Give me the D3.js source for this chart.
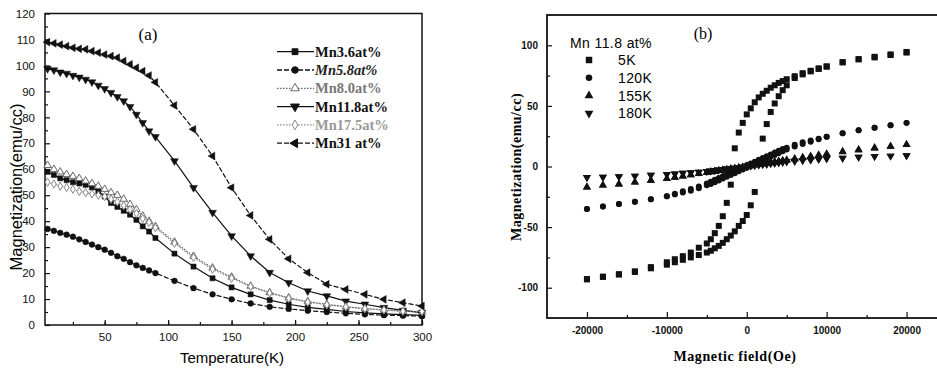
<!DOCTYPE html>
<html>
<head>
<meta charset="utf-8">
<script src="https://cdn.jsdelivr.net/npm/d3@7"></script>
<style>
  html, body { margin: 0; padding: 0; background: #fff; }
  svg { display: block; }
</style>
</head>
<body>
<div id="chart"></div>
<script>
// ---- panel (a): M(T) for several Mn contents ----
const temps = [5, 10, 15, 20, 25, 30, 35, 40, 45, 50, 55, 60, 65, 70, 75, 80, 85, 90,
  105, 120, 135, 150, 165, 180, 195, 210, 225, 240, 255, 270, 285, 300]
const mn36 = [59, 57.8, 56.5, 55.8, 55, 54.5, 54, 53, 51.5, 49.5, 47, 45.5, 44, 42.5, 40.5, 38, 36, 33.5,
  27.5, 22.5, 18, 14.5, 11.8, 9.6, 8, 6.8, 6, 5.2, 4.7, 4.3, 4, 3.7]
const mn58 = [37, 36.3, 35.5, 34.8, 34, 33, 32, 31, 30, 29, 27.8, 26.5, 25.5, 24.2, 23, 22, 21, 20,
  17, 14.2, 11.8, 9.9, 8.3, 7, 6.2, 5.5, 5, 4.5, 4.1, 3.8, 3.6, 3.4]
const mn80 = [61.5, 60, 59, 58, 57.3, 56.5, 55.5, 54.5, 53.5, 52.3, 51, 50, 48.5, 46.5, 44.5, 42, 40, 38,
  32, 26.5, 22, 18.5, 15, 12.5, 10.5, 9, 8, 7, 6.3, 5.8, 5.3, 5]
const mn118 = [98.7, 98.2, 97.4, 96.9, 96.1, 95.4, 94.6, 93.6, 92.3, 91, 89.5, 87.9, 86.3, 84.1, 81.1, 77.9, 74.7, 72.5,
  63.2, 52.9, 43.3, 34.3, 26.6, 20.2, 16.3, 13.1, 11.2, 9.2, 8, 6.7, 5.6, 4.8]
const mn175 = [55, 54.3, 53.5, 53, 52.3, 51.5, 51, 50.5, 50, 49.5, 48.5, 47.5, 46, 44.5, 43, 41, 39.5, 37.5,
  31.5, 26, 21.5, 18, 14.8, 12.3, 10.3, 8.8, 7.8, 7, 6.3, 5.8, 5.3, 5.2]
const mn31 = [109, 108.5, 108, 107.4, 106.8, 106.4, 106.2, 105.5, 104.9, 104.2, 103.6, 103, 101.7, 100.4, 99.1, 97.8, 96.1, 93.5,
  84.6, 75.4, 65.1, 52.9, 42.2, 33, 25.5, 20.2, 15.7, 13.7, 11.8, 9.9, 8.6, 7.3]
const seriesNamesA = ['Mn3.6at%', 'Mn5.8at%', 'Mn8.0at%', 'Mn11.8at%', 'Mn17.5at%', 'Mn31 at%']
const tempTicks = [50, 100, 150, 200, 250, 300]
const magTicksA = [0, 10, 20, 30, 40, 50, 60, 70, 80, 90, 100, 110, 120]

// ---- panel (b): M(H) loops of Mn 11.8 at% ----
const fieldDown = [20000, 18000, 16000, 14000, 12000, 10000, 9000, 8000, 7000, 6000, 5000, 4500, 4000, 3500,
  3000, 2500, 2000, 1500, 1000, 500, 0, -500, -1000, -1500, -2000, -2500, -3000, -3500, -4000, -4500,
  -5000, -6000, -7000, -8000, -9000, -10000, -12000, -14000, -16000, -18000, -20000]
const fieldUp = [-20000, -18000, -16000, -14000, -12000, -10000, -9000, -8000, -7000, -6000, -5000, -4500, -4000, -3500,
  -3000, -2500, -2000, -1500, -1000, -500, 0, 500, 1000, 1500, 2000, 2500, 3000, 3500, 4000, 4500,
  5000, 6000, 7000, 8000, 9000, 10000, 12000, 14000, 16000, 18000, 20000]
const m5KDown = [94, 92, 90, 88.5, 86, 82.5, 81, 79, 77, 74.5, 72, 70.5, 69, 67, 65, 62.5, 60, 57, 53, 48,
  43, 36, 28, 15, -15, -30, -41, -49, -55, -60, -63.5, -67, -71, -74, -76.5, -79, -83, -86.5, -89, -91, -93]
const m5KUp = [-93, -91, -89, -87, -84, -81, -79, -77, -75, -73, -71, -69.5, -67.5, -65.5, -63, -60, -57, -53.5, -49, -45,
  -40, -32, -21, 2, 23, 35, 45, 52, 58, 63, 67, 73, 76, 78.5, 80.5, 82.5, 86, 88.5, 90.5, 92.5, 94.5]
const m120KDown = [36, 34, 32, 30, 27.5, 24.5, 23, 21.5, 20, 18, 15.5, 14.5, 13, 11.5, 10, 8.5, 7, 5.5, 4, 2.5,
  1, -0.5, -2, -3.5, -5, -6.5, -8, -9.5, -11, -12.5, -14, -16.5, -18.5, -20.5, -22.5, -24.5, -27, -29, -31, -33, -35]
const m120KUp = [-35, -33, -31, -29, -27, -24.5, -23, -21.5, -20, -18, -15.5, -14.5, -13, -11.5, -10, -8.5, -7, -5.5, -4, -2.5,
  -1, 0.5, 2, 3.5, 5, 6.5, 8, 9.5, 11, 12.5, 14, 16.5, 18.5, 20.5, 22.5, 24.5, 27.5, 30, 32, 34, 36]
const m155KDown = [18, 16.5, 15.5, 14, 12.5, 10.5, 9.5, 8.5, 7.5, 6.5, 5.5, 5, 4.5, 4, 3.5, 3, 2.5, 2, 1.5, 1,
  0.5, -0.5, -1, -1.5, -2, -2.5, -3, -3.5, -4, -4.5, -5, -6, -7, -8, -9, -10, -11.5, -13, -14.5, -15.5, -17]
const m155KUp = [-17, -15.5, -14.5, -13, -11.5, -10, -9, -8, -7, -6, -5, -4.5, -4, -3.5, -3, -2.5, -2, -1.5, -1, -0.5,
  0, 0.5, 1, 1.5, 2, 2.5, 3, 3.5, 4, 4.5, 5, 6, 7, 8, 9, 10, 12, 13.5, 15, 16.5, 18]
const m180KDown = [9, 8.7, 8.3, 7.8, 7, 6.5, 6, 5.5, 5, 4.5, 4, 3.6, 3.2, 2.8, 2.5, 2, 1.7, 1.3, 1, 0.5,
  0, -0.5, -1, -1.3, -1.7, -2, -2.5, -2.8, -3.2, -3.6, -4, -4.5, -5, -5.5, -6, -6.5, -7, -7.8, -8.3, -8.7, -9]
const m180KUp = [-9, -8.7, -8.3, -7.8, -7, -6.5, -6, -5.5, -5, -4.5, -4, -3.6, -3.2, -2.8, -2.5, -2, -1.7, -1.3, -1, -0.5,
  0, 0.5, 1, 1.3, 1.7, 2, 2.5, 2.8, 3.2, 3.6, 4, 4.5, 5, 5.5, 6, 6.5, 7, 7.8, 8.3, 8.7, 9]
const seriesNamesB = ['5K', '120K', '155K', '180K']
const fieldTicks = [-20000, -10000, 0, 10000, 20000]
const magTicksB = [-100, -50, 0, 50, 100]

const width = 937
const height = 369
const svg = d3.select('#chart').append('svg')
  .attr('width', width)
  .attr('height', height)
  .style('font-family', '"Liberation Sans", Arial, sans-serif')

// marker helper: type -> path string
function markerPath(type, size) {
  const sym = {
    square: d3.symbolSquare,
    circle: d3.symbolCircle,
    up: d3.symbolTriangle,
    down: d3.symbolTriangle,
    left: d3.symbolTriangle,
    diamond: d3.symbolDiamond
  }[type]
  return d3.symbol(sym, size)()
}
function markerRotate(type) {
  if (type === 'down') return 180
  if (type === 'left') return -90
  return 0
}
// plain hyphen minus, no thousands separator
const plainFmt = (d) => String(d)

// ================= panel (a) =================
{
  const x = d3.scaleLinear().domain([3, 300]).range([45, 422])
  const y = d3.scaleLinear().domain([0, 120]).range([325, 13.5])
  const g = svg.append('g').attr('class', 'panel-a')

  // 轴
  g.append('g')
    .attr('transform', `translate(0,${y(0)})`)
    .call(d3.axisBottom(x).tickValues(d3.range(25, 301, 25)).tickSize(-3).tickFormat(''))
  g.append('g')
    .attr('transform', `translate(0,${y(0)})`)
    .call(d3.axisBottom(x).tickValues(tempTicks).tickSize(-5).tickPadding(8).tickFormat(plainFmt))
  g.append('g')
    .attr('transform', `translate(${x.range()[0]},0)`)
    .call(d3.axisLeft(y).tickValues(d3.range(5, 120, 10)).tickSize(-3).tickFormat(''))
  g.append('g')
    .attr('transform', `translate(${x.range()[0]},0)`)
    .call(d3.axisLeft(y).tickValues(magTicksA).tickSize(-5).tickPadding(10).tickFormat(plainFmt))
  g.selectAll('.domain').remove()
  g.selectAll('.tick line').attr('stroke', '#111').attr('stroke-width', 1.2)
  g.selectAll('.tick text').attr('font-size', 11.5).attr('fill', '#111')
    .attr('font-family', '"Liberation Sans", Arial, sans-serif')

  g.append('rect')
    .attr('x', x.range()[0]).attr('y', y.range()[1])
    .attr('width', x.range()[1] - x.range()[0])
    .attr('height', y.range()[0] - y.range()[1])
    .attr('fill', 'none').attr('stroke', '#111').attr('stroke-width', 1.5)

  const seriesA = [
    { name: seriesNamesA[0], values: mn36, marker: 'square', size: 26, fill: '#111', stroke: '#111', dash: null, textFill: '#111', italic: false },
    { name: seriesNamesA[1], values: mn58, marker: 'circle', size: 26, fill: '#111', stroke: '#111', dash: '5,2', textFill: '#222', italic: true },
    { name: seriesNamesA[2], values: mn80, marker: 'up', size: 24, fill: '#fff', stroke: '#666', dash: '1.5,1.5', textFill: '#777', italic: false },
    { name: seriesNamesA[3], values: mn118, marker: 'down', size: 26, fill: '#111', stroke: '#111', dash: null, textFill: '#111', italic: false },
    { name: seriesNamesA[4], values: mn175, marker: 'diamond', size: 20, fill: '#fff', stroke: '#888', dash: '1.5,1.5', textFill: '#999', italic: false },
    { name: seriesNamesA[5], values: mn31, marker: 'left', size: 26, fill: '#111', stroke: '#111', dash: '5,2', textFill: '#111', italic: false }
  ]

  const line = d3.line().x((d) => x(d[0])).y((d) => y(d[1]))
  seriesA.forEach((s) => {
    const pts = temps.map((t, i) => [t, s.values[i]])
    const sg = g.append('g').attr('class', 'series')
    sg.append('path')
      .attr('d', line(pts))
      .attr('fill', 'none')
      .attr('stroke', s.stroke)
      .attr('stroke-width', 1.2)
      .attr('stroke-dasharray', s.dash)
    sg.selectAll('path.mark')
      .data(pts)
      .enter().append('path')
      .attr('class', 'mark')
      .attr('d', markerPath(s.marker, s.size))
      .attr('transform', (d) => `translate(${x(d[0])},${y(d[1])}) rotate(${markerRotate(s.marker)})`)
      .attr('fill', s.fill)
      .attr('stroke', s.stroke)
      .attr('stroke-width', s.fill === '#fff' ? 1 : 0.5)
  })

  // 图例
  const legend = g.append('g').attr('class', 'legend')
  seriesA.forEach((s, i) => {
    const ly = 51.7 + i * 18.3
    legend.append('line')
      .attr('x1', 277).attr('x2', 314).attr('y1', ly).attr('y2', ly)
      .attr('stroke', s.stroke).attr('stroke-width', 1.3)
      .attr('stroke-dasharray', s.dash)
    legend.append('path')
      .attr('d', markerPath(s.marker, s.size + 8))
      .attr('transform', `translate(295,${ly}) rotate(${markerRotate(s.marker)})`)
      .attr('fill', s.fill).attr('stroke', s.stroke)
    legend.append('text')
      .attr('x', 315).attr('y', ly + 5)
      .attr('font-family', '"Liberation Serif", "Times New Roman", serif')
      .attr('font-weight', 'bold')
      .attr('font-style', s.italic ? 'italic' : 'normal')
      .attr('font-size', 14.5)
      .attr('fill', s.textFill)
      .text(s.name)
  })

  g.append('text')
    .attr('x', 148).attr('y', 40)
    .attr('text-anchor', 'middle')
    .attr('font-family', '"Liberation Serif", "Times New Roman", serif')
    .attr('font-size', 17)
    .text('(a)')

  g.append('text')
    .attr('x', 232).attr('y', 363)
    .attr('text-anchor', 'middle')
    .attr('font-size', 15)
    .text('Temperature(K)')
  g.append('text')
    .attr('transform', 'translate(22,187) rotate(-90)')
    .attr('text-anchor', 'middle')
    .attr('font-size', 16.5)
    .text('Magnetization(emu/cc)')
}

// ================= panel (b) =================
{
  const x = d3.scaleLinear().domain([-25000, 25000]).range([547, 946.5])
  const y = d3.scaleLinear().domain([-125, 125]).range([318, 15])
  const g = svg.append('g').attr('class', 'panel-b')

  g.append('g')
    .attr('transform', `translate(0,${y.range()[0]})`)
    .call(d3.axisBottom(x).tickValues(d3.range(-15000, 25000, 10000)).tickSize(-3).tickFormat(''))
  g.append('g')
    .attr('transform', `translate(0,${y.range()[0]})`)
    .call(d3.axisBottom(x).tickValues(fieldTicks).tickSize(-6).tickPadding(9).tickFormat(plainFmt))
  g.append('g')
    .attr('transform', `translate(${x.range()[0]},0)`)
    .call(d3.axisLeft(y).tickValues(d3.range(-75, 100, 50)).tickSize(-3).tickFormat(''))
  g.append('g')
    .attr('transform', `translate(${x.range()[0]},0)`)
    .call(d3.axisLeft(y).tickValues(magTicksB).tickSize(-5).tickPadding(9).tickFormat(plainFmt))
  g.selectAll('.domain').remove()
  g.selectAll('.tick line').attr('stroke', '#111').attr('stroke-width', 1.2)
  g.selectAll('.tick text').attr('font-size', 10).attr('font-weight', 'bold').attr('fill', '#111')
    .attr('font-family', '"Liberation Sans", Arial, sans-serif')

  g.append('rect')
    .attr('x', x.range()[0]).attr('y', y.range()[1])
    .attr('width', x.range()[1] - x.range()[0])
    .attr('height', y.range()[0] - y.range()[1])
    .attr('fill', 'none').attr('stroke', '#111').attr('stroke-width', 1.8)

  const seriesB = [
    { name: seriesNamesB[0], down: m5KDown, up: m5KUp, marker: 'square', size: 36 },
    { name: seriesNamesB[1], down: m120KDown, up: m120KUp, marker: 'circle', size: 28 },
    { name: seriesNamesB[2], down: m155KDown, up: m155KUp, marker: 'up', size: 28 },
    { name: seriesNamesB[3], down: m180KDown, up: m180KUp, marker: 'down', size: 28 }
  ]
  seriesB.forEach((s) => {
    const pts = fieldDown.map((h, i) => [h, s.down[i]])
      .concat(fieldUp.map((h, i) => [h, s.up[i]]))
    g.append('g').selectAll('path')
      .data(pts)
      .enter().append('path')
      .attr('d', markerPath(s.marker, s.size))
      .attr('transform', (d) => `translate(${x(d[0])},${y(d[1])}) rotate(${markerRotate(s.marker)})`)
      .attr('fill', '#111')
  })

  // 图例
  const legend = g.append('g').attr('class', 'legend')
  legend.append('text')
    .attr('x', 570).attr('y', 48)
    .attr('font-size', 14)
    .attr('letter-spacing', 0.4)
    .text('Mn 11.8 at%')
  seriesB.forEach((s, i) => {
    const ly = 60 + i * 17.8
    legend.append('path')
      .attr('d', markerPath(s.marker, s.size + 6))
      .attr('transform', `translate(589,${ly}) rotate(${markerRotate(s.marker)})`)
      .attr('fill', '#111')
    legend.append('text')
      .attr('x', 618).attr('y', ly + 5)
      .attr('font-size', 14)
      .attr('letter-spacing', 0.4)
      .text(s.name)
  })

  g.append('text')
    .attr('x', 703).attr('y', 39)
    .attr('text-anchor', 'middle')
    .attr('font-family', '"Liberation Serif", "Times New Roman", serif')
    .attr('font-size', 16)
    .text('(b)')

  g.append('text')
    .attr('x', 735).attr('y', 361)
    .attr('text-anchor', 'middle')
    .attr('font-family', '"Liberation Serif", "Times New Roman", serif')
    .attr('font-weight', 'bold')
    .attr('font-size', 14)
    .attr('letter-spacing', 0.6)
    .text('Magnetic field(Oe)')
  g.append('text')
    .attr('transform', 'translate(521,167) rotate(-90)')
    .attr('text-anchor', 'middle')
    .attr('font-family', '"Liberation Serif", "Times New Roman", serif')
    .attr('font-weight', 'bold')
    .attr('font-size', 14)
    .attr('letter-spacing', 0.5)
    .text('Magnetization(emu/cc)')
}
</script>
</body>
</html>
